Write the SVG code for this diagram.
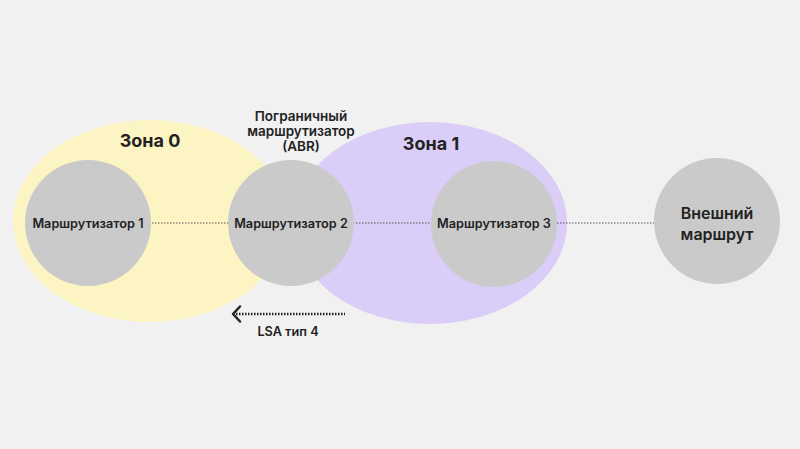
<svg xmlns="http://www.w3.org/2000/svg" width="800" height="449" viewBox="0 0 800 449">
<defs>
<style>
.bg{fill:#f1f1f1}
.node{fill:#cbcaca}
.t{font-family:Inter,"Noto Sans","Liberation Sans",sans-serif;fill:#222;text-anchor:middle;font-weight:600}
.lbl{font-size:12.7px}
.abr{font-size:13.5px}
.zone{font-size:18px;font-weight:700}
.link{stroke:#555;stroke-width:1;stroke-dasharray:1.5 1.5;fill:none}
.lsa{stroke:#222;stroke-width:2.5;stroke-dasharray:1.5 1.5;fill:none}
</style>
</defs>
<rect class="bg" x="0" y="0" width="800" height="449"/>
<g id="zone0">
<ellipse cx="150" cy="221" rx="137" ry="101" fill="#fdf4c3"/>
<text class="t zone" x="150" y="147">Зона 0</text>
</g>
<g id="zone1">
<ellipse cx="430" cy="223" rx="137" ry="101" fill="#dacdf8"/>
<text class="t zone" x="431" y="150">Зона 1</text>
</g>
<g id="connectors">
<line class="link" x1="152" y1="223" x2="229" y2="223"/>
<line class="link" x1="353" y1="223" x2="431" y2="223"/>
<line class="link" x1="557" y1="223" x2="654" y2="223"/>
<line class="lsa" x1="236" y1="314" x2="345" y2="314"/>
<polyline points="240,306.5 233,314 240,321.5" fill="none" stroke="#222" stroke-width="2.5" stroke-linecap="round" stroke-linejoin="round"/>
<text class="t lbl" x="288" y="336">LSA тип 4</text>
</g>
<g id="router1">
<circle class="node" cx="88" cy="223" r="63"/>
<text class="t lbl" x="88" y="227.5">Маршрутизатор 1</text>
</g>
<g id="router2">
<circle class="node" cx="291" cy="223" r="63"/>
<text class="t lbl" x="291" y="227.5">Маршрутизатор 2</text>
<text class="t abr" x="301" y="121">Пограничный</text>
<text class="t abr" x="301" y="136">маршрутизатор</text>
<text class="t abr" x="301" y="151">(ABR)</text>
</g>
<g id="router3">
<circle class="node" cx="494" cy="224" r="63"/>
<text class="t lbl" x="494" y="228">Маршрутизатор 3</text>
</g>
<g id="external">
<circle class="node" cx="717" cy="221" r="63"/>
<text class="t" font-size="16" font-weight="700" x="717" y="219">Внешний</text>
<text class="t" font-size="16" font-weight="700" x="717" y="240">маршрут</text>
</g>
</svg>
